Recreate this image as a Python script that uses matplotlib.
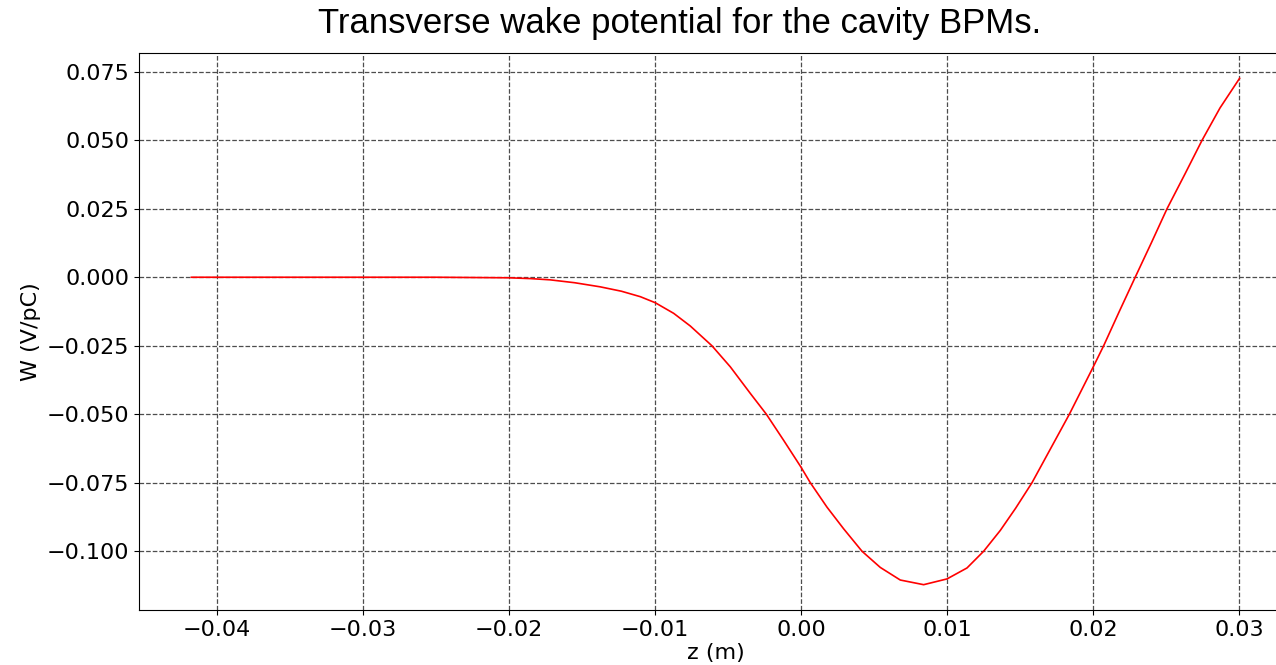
import numpy as np
import matplotlib.pyplot as plt

# ── Data ──────────────────────────────────────────────────────────────────────
z = [-0.04175, -0.035, -0.030, -0.025, -0.0225, -0.020, -0.0185, -0.01718,
     -0.0155, -0.01375, -0.0123, -0.0110, -0.00998, -0.00872, -0.00758,
     -0.0061, -0.00484, -0.00347, -0.00237, -0.00119, 0.0, 0.00064, 0.00178,
     0.00292, 0.00418, 0.00543, 0.0068, 0.0084, 0.0100, 0.01137, 0.01251,
     0.01365, 0.0147, 0.01582, 0.0171, 0.01838, 0.0200, 0.02073, 0.0218,
     0.02289, 0.0240, 0.02507, 0.0263, 0.02747, 0.0287, 0.03004]
W = [0.0, 0.0, 0.0, 0.0, -0.0001, -0.0002, -0.0005, -0.00095,
     -0.0020, -0.0035, -0.0051, -0.0071, -0.0093, -0.01317, -0.0178,
     -0.0250, -0.0327, -0.0424, -0.0500, -0.0595, -0.0693, -0.0750, -0.0839,
     -0.0918, -0.1000, -0.1059, -0.1105, -0.1122, -0.1101, -0.1061, -0.1000,
     -0.0924, -0.0843, -0.0750, -0.0625, -0.0500, -0.0329, -0.0250, -0.0125,
     0.0000, 0.0126, 0.0250, 0.0377, 0.0500, 0.0618, 0.0726]

TITLE = "Transverse wake potential for the cavity BPMs."

plt.rcParams.update({
    "font.family": "DejaVu Sans",
    "font.size": 16,
})

fig = plt.figure(figsize=(12.76, 6.65), dpi=100)
ax = fig.add_axes([139 / 1276, 55 / 665, 1153 / 1276, 557 / 665])

ax.plot(z, W, color="red", linewidth=1.2)

ax.grid(True, linestyle="--", color="0.3", linewidth=0.9)
ax.tick_params(labelsize=16)
ax.set_xlabel("z (m)", fontsize=16, labelpad=2)
ax.set_ylabel("W (V/pC)", fontsize=16)

fig.text(680 / 1276, 1 - 24 / 665, TITLE, ha="center", va="center",
         fontsize=25, family="Liberation Sans")

fig.savefig("out.png", dpi=100)
